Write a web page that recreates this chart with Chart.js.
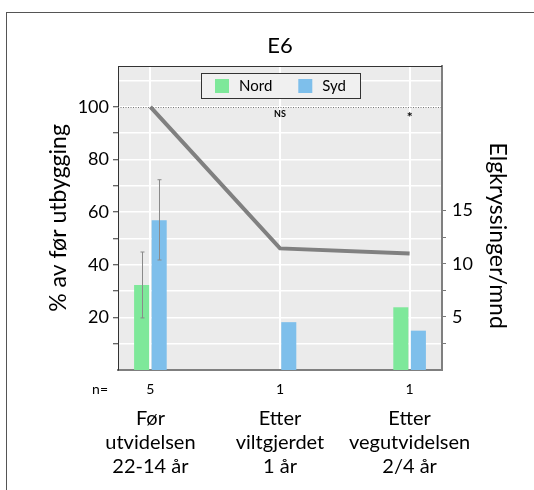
<!DOCTYPE html>
<html>
<head>
<meta charset="utf-8">
<script src="https://cdn.jsdelivr.net/npm/chart.js@4/dist/chart.umd.min.js"></script>
<style>
  html, body { margin: 0; padding: 0; background: #fff; width: 534px; height: 490px; overflow: hidden; }
  #frame { position: absolute; left: 6px; top: 12px; width: 620px; height: 620px; border: 1px solid #555; }
  #wrap { position: absolute; left: 0; top: 0; width: 534px; height: 490px; }
</style>
</head>
<body>
<div id="frame"></div>
<div id="wrap"><canvas id="c" width="534" height="490"></canvas></div>
<script>
// Periods along the road, with sample size (years of data) for each
const categories = [
  ['Før', 'utvidelsen', '22-14 år'],
  ['Etter', 'viltgjerdet', '1 år'],
  ['Etter', 'vegutvidelsen', '2/4 år']
];
const sampleSizes = ['5', '1', '1'];
const significance = ['', 'NS', '*'];

// Moose crossings per month (right axis)
const nordCrossings = [8.0, null, 5.9];
const sydCrossings = [14.1, 4.5, 3.7];
const nordErrLow = [4.9, null, null];
const nordErrHigh = [11.1, null, null];
const sydErrLow = [10.35, null, null];
const sydErrHigh = [17.9, null, null];

// Crossings as % of the level before the road work (left axis)
const percentOfBefore = [100, 46.2, 44.3];
const referenceLevel = 100;

// Axis ticks
const leftTickLabels = [20, 40, 60, 80, 100];
const rightTickLabels = [5, 10, 15];
const leftMax = 115.5;
const rightMax = 28.6;

const leftTickValues = [];
for (let v = 0; v <= 110; v += 10) leftTickValues.push(v);
const rightTickValues = [];
for (let v = 2.5; v <= 15; v += 2.5) rightTickValues.push(v);
const categoryPositions = categories.map((c, i) => i);

const toPoints = vals => vals.map((v, i) => ({ x: i, y: v }));

Chart.defaults.font.family = 'Lato';
Chart.defaults.color = '#000';

const plotBackground = {
  id: 'plotBackground',
  beforeDraw(chart) {
    const { ctx, chartArea: a } = chart;
    ctx.save();
    ctx.fillStyle = '#ebebeb';
    ctx.fillRect(a.left, a.top, a.right - a.left, a.bottom - a.top);
    ctx.restore();
  }
};

const errorBars = {
  id: 'errorBars',
  afterDatasetsDraw(chart) {
    const { ctx } = chart;
    const yScale = chart.scales.y1;
    ctx.save();
    ctx.strokeStyle = '#8a8a8a';
    ctx.lineWidth = 1;
    chart.data.datasets.forEach((ds, di) => {
      if (!ds.errLow) return;
      const meta = chart.getDatasetMeta(di);
      meta.data.forEach((bar, j) => {
        const lo = ds.errLow[j], hi = ds.errHigh[j];
        if (lo == null || hi == null) return;
        const x = Math.round(bar.x) + 0.5;
        const yl = yScale.getPixelForValue(lo);
        const yh = yScale.getPixelForValue(hi);
        ctx.beginPath();
        ctx.moveTo(x, yl); ctx.lineTo(x, yh);
        ctx.moveTo(x - 2, yl); ctx.lineTo(x + 2, yl);
        ctx.moveTo(x - 2, yh); ctx.lineTo(x + 2, yh);
        ctx.stroke();
      });
    });
    ctx.restore();
  }
};

const referenceLine = {
  id: 'referenceLine',
  afterDatasetsDraw(chart) {
    const { ctx, chartArea: a, scales } = chart;
    const y = Math.round(scales.y.getPixelForValue(referenceLevel)) + 0.5;
    ctx.save();
    ctx.strokeStyle = '#777';
    ctx.lineWidth = 1;
    ctx.setLineDash([1, 1.5]);
    ctx.beginPath();
    ctx.moveTo(a.left, y); ctx.lineTo(a.right, y);
    ctx.stroke();
    ctx.setLineDash([]);
    ctx.fillStyle = '#000';
    ctx.textAlign = 'center';
    ctx.textBaseline = 'middle';
    significance.forEach((s, i) => {
      if (!s) return;
      const star = s === '*';
      ctx.font = (star ? 'bold 14px' : 'bold 9px') + ' Lato';
      ctx.fillText(s, scales.x.getPixelForValue(i), y + (star ? 10 : 7));
    });
    ctx.restore();
  }
};

const legendBox = {
  id: 'legendBox',
  afterDatasetsDraw(chart) {
    const { ctx, chartArea: a } = chart;
    const items = chart.data.datasets.filter(d => d.type === 'bar');
    ctx.save();
    ctx.font = '15px Lato';
    const sq = 14, gap = 10, spacing = 26, pad = 14, h = 25;
    const widths = items.map(d => sq + gap + ctx.measureText(d.label).width);
    const total = Math.round(pad * 2 + widths.reduce((s, w) => s + w, 0) + spacing * (items.length - 1));
    const left = Math.round((a.left + a.right) / 2 - total / 2);
    const top = Math.round(a.top + 7);
    ctx.fillStyle = '#f0f0f0';
    ctx.fillRect(left, top, total, h);
    ctx.strokeStyle = '#333';
    ctx.lineWidth = 1;
    ctx.strokeRect(left + 0.5, top + 0.5, total, h);
    let x = left + pad;
    items.forEach((d, i) => {
      ctx.fillStyle = d.backgroundColor;
      ctx.fillRect(x, top + (h - sq) / 2 + 0.5, sq, sq);
      ctx.fillStyle = '#000';
      ctx.textBaseline = 'middle';
      ctx.textAlign = 'left';
      ctx.fillText(d.label, x + sq + gap, top + h / 2 + 0.5);
      x += widths[i] + spacing;
    });
    ctx.restore();
  }
};

const frameAndCount = {
  id: 'frameAndCount',
  afterDraw(chart) {
    const { ctx, chartArea: a, scales } = chart;
    ctx.save();
    ctx.strokeStyle = '#333';
    ctx.lineWidth = 1;
    ctx.beginPath();
    ctx.moveTo(a.left, a.top + 0.5); ctx.lineTo(a.right, a.top + 0.5);
    ctx.stroke();
    // "n=" row label, aligned with the sample-size ticks
    const xs = scales.x;
    const o = xs.options.ticks;
    ctx.font = o.font.size + 'px Lato';
    ctx.fillStyle = '#000';
    ctx.textAlign = 'right';
    ctx.textBaseline = 'middle';
    ctx.fillText('n=', a.left - 10, xs.top + o.padding + o.font.size * 1.2 / 2);
    ctx.restore();
  }
};

new Chart(document.getElementById('c'), {
  type: 'bar',
  data: {
    datasets: [
      {
        type: 'line',
        label: '% av før utbygging',
        data: toPoints(percentOfBefore),
        yAxisID: 'y',
        borderColor: '#808080',
        borderWidth: 4,
        pointRadius: 0,
        tension: 0,
        fill: false,
        order: 0
      },
      {
        type: 'bar',
        label: 'Nord',
        data: toPoints(nordCrossings),
        yAxisID: 'y1',
        backgroundColor: '#7ee89a',
        errLow: nordErrLow,
        errHigh: nordErrHigh,
        order: 1
      },
      {
        type: 'bar',
        label: 'Syd',
        data: toPoints(sydCrossings),
        yAxisID: 'y1',
        backgroundColor: '#7ebfeb',
        errLow: sydErrLow,
        errHigh: sydErrHigh,
        order: 1
      }
    ]
  },
  options: {
    responsive: false,
    animation: false,
    devicePixelRatio: 1,
    categoryPercentage: 0.271,
    barPercentage: 0.857,
    layout: { padding: 0 },
    plugins: {
      legend: { display: false },
      tooltip: { enabled: false },
      title: {
        display: true,
        text: 'E6',
        fullSize: false,
        color: '#000',
        font: { size: 22, weight: 'normal' },
        padding: { top: 33, bottom: 6.6 }
      }
    },
    scales: {
      x: {
        type: 'linear',
        position: 'bottom',
        min: -0.25,
        max: 2.25,
        offset: false,
        weight: 0,
        afterBuildTicks: s => { s.ticks = categoryPositions.map(v => ({ value: v })); },
        afterFit: s => { s.height = 27; },
        grid: { color: '#ffffff', lineWidth: 2, drawTicks: false, offset: false },
        border: { color: '#7f7f7f', width: 2 },
        ticks: {
          callback: (v, i) => sampleSizes[i],
          font: { size: 14 },
          padding: 10.6,
          maxRotation: 0,
          autoSkip: false
        }
      },
      x2: {
        type: 'linear',
        position: 'bottom',
        min: -0.25,
        max: 2.25,
        offset: false,
        weight: 1,
        afterBuildTicks: s => { s.ticks = categoryPositions.map(v => ({ value: v })); },
        afterFit: s => { s.height = 93; },
        grid: { display: false, drawTicks: false },
        border: { display: false },
        ticks: {
          callback: (v, i) => categories[i],
          font: { size: 20, lineHeight: 1.22 },
          padding: 9,
          maxRotation: 0,
          autoSkip: false
        }
      },
      y: {
        type: 'linear',
        position: 'left',
        min: 0,
        max: leftMax,
        afterBuildTicks: s => { s.ticks = leftTickValues.map(v => ({ value: v })); },
        afterFit: s => { s.width = 118; },
        grid: {
          color: '#ffffff',
          lineWidth: 1.5,
          tickLength: 5,
          tickColor: c => (c.tick && c.tick.value > 0 && c.tick.value <= referenceLevel) ? '#333' : 'rgba(0,0,0,0)',
          tickWidth: 1
        },
        border: { color: '#333', width: 1 },
        ticks: {
          callback: v => leftTickLabels.includes(v) ? String(v) : '',
          font: { size: 18 },
          padding: 4
        },
        title: {
          display: true,
          text: '% av før utbygging',
          font: { size: 23 },
          padding: { top: 45, bottom: 0 }
        }
      },
      y1: {
        type: 'linear',
        position: 'right',
        min: 0,
        max: rightMax,
        afterBuildTicks: s => { s.ticks = rightTickValues.map(v => ({ value: v })); },
        afterFit: s => { s.width = 92; },
        grid: { drawOnChartArea: false, tickLength: 4, tickColor: '#777', tickWidth: 1 },
        border: { color: '#7f7f7f', width: 2 },
        ticks: {
          callback: v => rightTickLabels.includes(v) ? String(v) : '',
          font: { size: 18 },
          padding: 6
        },
        title: {
          display: true,
          text: '      Elgkryssinger/mnd',
          font: { size: 23 },
          padding: { top: 23, bottom: 0 }
        }
      }
    }
  },
  plugins: [plotBackground, errorBars, referenceLine, legendBox, frameAndCount]
});
</script>
</body>
</html>
